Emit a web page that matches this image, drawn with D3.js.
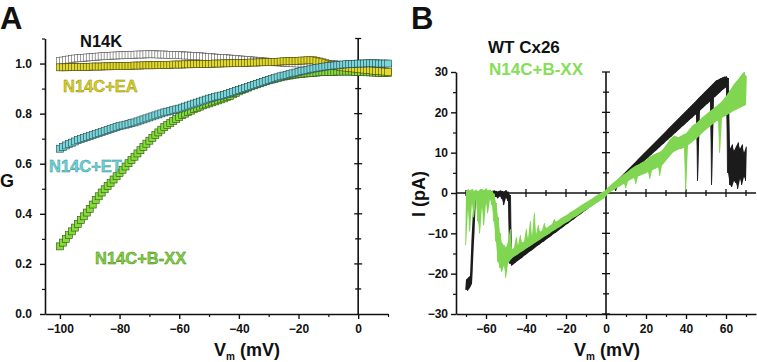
<!DOCTYPE html>
<html>
<head>
<meta charset="utf-8">
<script src="https://cdn.jsdelivr.net/npm/d3@7"></script>
<style>
body{margin:0;background:#fff;}
svg text{font-family:"Liberation Sans",Arial,sans-serif;font-weight:bold;}
</style>
</head>
<body>
<div id="chart"></div>
<script>
// ---- panel A : G-V curves, one marker per mV from -100 to +10
var vmA = d3.range(-100, 11, 1);

var gN14K = [
 1.010,1.012,1.014,1.016,1.018,1.020,1.021,1.022,1.023,1.024,
 1.025,1.026,1.027,1.028,1.029,1.030,1.030,1.031,1.032,1.032,
 1.033,1.033,1.034,1.034,1.035,1.035,1.036,1.036,1.036,1.037,
 1.037,1.037,1.037,1.036,1.036,1.036,1.035,1.035,1.034,1.034,
 1.034,1.033,1.032,1.032,1.031,1.030,1.029,1.029,1.028,1.027,
 1.026,1.025,1.024,1.023,1.022,1.022,1.021,1.020,1.019,1.018,
 1.017,1.016,1.015,1.014,1.013,1.012,1.011,1.010,1.009,1.008,
 1.007,1.006,1.005,1.005,1.004,1.003,1.002,1.002,1.001,1.001,
 1.000,1.000,1.000,1.001,1.002,1.003,1.004,1.003,1.002,1.000,
 0.999,0.998,0.997,0.996,0.995,0.995,0.994,0.993,0.992,0.991,
 0.990,0.989,0.988,0.987,0.986,0.985,0.984,0.983,0.982,0.981,0.980];

var gEA = [
 0.985,0.985,0.985,0.986,0.986,0.986,0.986,0.987,0.987,0.987,
 0.987,0.988,0.988,0.988,0.988,0.989,0.989,0.989,0.990,0.990,
 0.990,0.990,0.991,0.991,0.991,0.992,0.992,0.992,0.993,0.993,
 0.993,0.993,0.994,0.994,0.994,0.995,0.995,0.995,0.996,0.996,
 0.996,0.996,0.997,0.997,0.997,0.998,0.998,0.998,0.999,0.999,
 0.999,0.999,1.000,1.000,1.000,1.001,1.001,1.001,1.002,1.002,
 1.002,1.002,1.003,1.003,1.004,1.004,1.004,1.005,1.005,1.006,
 1.006,1.006,1.007,1.007,1.008,1.009,1.009,1.010,1.010,1.011,
 1.011,1.012,1.012,1.013,1.013,1.013,1.011,1.008,1.005,1.001,
 0.997,0.994,0.991,0.989,0.987,0.985,0.984,0.983,0.981,0.980,
 0.978,0.977,0.976,0.975,0.974,0.972,0.971,0.970,0.969,0.968,0.967];

var gET = [
 0.660,0.667,0.673,0.679,0.684,0.689,0.694,0.698,0.702,0.706,
 0.710,0.714,0.718,0.722,0.726,0.730,0.734,0.738,0.742,0.746,
 0.750,0.753,0.756,0.759,0.762,0.765,0.769,0.773,0.777,0.781,
 0.785,0.789,0.793,0.797,0.801,0.805,0.808,0.811,0.814,0.817,
 0.820,0.824,0.828,0.832,0.836,0.840,0.844,0.848,0.852,0.856,
 0.860,0.863,0.866,0.869,0.872,0.875,0.879,0.883,0.887,0.891,
 0.895,0.899,0.903,0.907,0.911,0.915,0.919,0.923,0.927,0.931,
 0.935,0.938,0.942,0.945,0.949,0.952,0.955,0.958,0.961,0.964,
 0.967,0.970,0.972,0.975,0.977,0.980,0.982,0.984,0.986,0.988,
 0.990,0.991,0.992,0.993,0.994,0.996,0.997,0.998,0.999,0.999,
 1.000,1.000,1.000,1.001,1.001,1.001,1.001,1.000,1.000,1.000,1.000];

var gBXX = [
 0.270,0.285,0.300,0.315,0.330,0.345,0.360,0.375,0.390,0.405,
 0.420,0.437,0.455,0.470,0.485,0.498,0.511,0.524,0.537,0.550,
 0.563,0.576,0.589,0.602,0.615,0.628,0.641,0.654,0.667,0.680,
 0.692,0.703,0.714,0.725,0.736,0.746,0.755,0.763,0.771,0.779,
 0.787,0.794,0.800,0.806,0.812,0.818,0.823,0.828,0.833,0.837,
 0.841,0.845,0.849,0.853,0.857,0.861,0.866,0.871,0.877,0.883,
 0.889,0.894,0.899,0.904,0.909,0.913,0.917,0.921,0.925,0.929,
 0.933,0.936,0.939,0.942,0.945,0.948,0.950,0.952,0.954,0.956,
 0.958,0.959,0.960,0.961,0.962,0.963,0.964,0.965,0.966,0.966,
 0.967,0.967,0.967,0.968,0.968,0.968,0.968,0.968,0.968,0.967,
 0.967,0.966,0.966,0.965,0.965,0.964,0.964,0.963,0.963,0.962,0.962];

var xTicksA = [-100,-80,-60,-40,-20,0];
var yTicksA = [0,0.2,0.4,0.6,0.8,1.0];

// ---- panel B : single channel I-V ramps, min/max per mV from -70 to +70
var vmB = d3.range(-70, 71, 1);

var wtLo = [
 -24.0,-24.2,-23.5,-22.5,-12.0,-1.0,-0.8,-1.2,-0.8,-1.0,
 -0.7,-0.9,-1.1,-0.8,-1.0,-0.9,-1.3,-0.8,-1.5,-3.0,
 -1.2,-2.0,-17.5,-18.0,-17.6,-17.2,-16.8,-16.4,-16.1,-15.6,
 -15.3,-14.9,-14.5,-14.2,-13.8,-13.4,-13.0,-12.7,-12.3,-12.0,
 -11.6,-11.2,-10.9,-10.5,-10.1,-9.8,-9.4,-9.0,-8.7,-8.3,
 -7.9,-7.6,-7.2,-6.8,-6.5,-6.1,-5.7,-5.4,-5.0,-4.6,
 -4.3,-3.9,-3.5,-3.2,-2.8,-2.4,-2.1,-1.7,-1.3,-0.9,
 -0.5,0.0,0.4,0.8,1.2,0.5,2.0,2.4,2.9,3.3,
 3.8,4.2,4.7,5.1,5.6,6.0,6.5,6.9,7.4,7.8,
 8.3,8.7,9.2,9.6,10.1,10.5,11.0,11.4,11.9,12.3,
 12.8,13.2,13.7,14.1,14.6,15.0,15.5,15.9,16.4,16.8,
 17.3,17.7,18.2,18.6,19.1,19.5,3.0,20.4,20.9,21.3,
 21.8,22.2,22.7,2.0,23.6,24.0,24.5,24.9,25.4,25.8,
 26.2,5.0,2.0,1.5,3.0,2.5,1.0,3.5,2.0,4.0,3.0];

var wtHi = [
 -21.5,-21.0,-20.5,-9.0,0.3,0.4,0.3,0.4,0.3,0.5,
 0.4,0.3,0.4,0.5,0.6,0.5,0.4,0.6,0.5,0.4,
 0.5,0.3,-0.5,-15.8,-15.5,-15.2,-14.8,-14.4,-14.0,-13.7,
 -13.3,-12.9,-12.6,-12.2,-11.9,-11.5,-11.2,-10.8,-10.5,-10.1,
 -9.8,-9.4,-9.1,-8.7,-8.4,-8.0,-7.7,-7.3,-7.0,-6.6,
 -6.3,-6.0,-5.6,-5.3,-4.9,-4.6,-4.2,-3.9,-3.5,-3.2,
 -2.8,-2.5,-2.1,-1.8,-1.4,-1.1,-0.7,-0.4,0.0,0.3,
 0.5,0.9,1.4,1.9,2.4,2.9,3.4,3.9,4.4,4.9,
 5.4,5.9,6.4,6.9,7.4,7.9,8.4,8.9,9.4,9.9,
 10.4,10.9,11.4,11.9,12.4,12.9,13.4,13.9,14.4,14.9,
 15.4,15.9,16.4,16.9,17.4,17.9,18.4,18.9,19.4,19.9,
 20.4,20.9,21.4,21.9,22.4,22.9,23.4,23.9,24.4,24.9,
 25.4,25.9,26.4,26.9,27.4,27.9,28.1,28.4,28.6,28.8,
 28.9,28.5,11.0,12.0,10.5,11.5,12.5,11.0,12.0,10.0,11.5];

var bxxLo = [
 -13.0,-4.0,-9.5,-2.5,-6.0,-1.5,-7.0,-10.0,-3.5,-8.0,
 -2.5,-5.0,-1.5,-3.0,-7.0,-12.0,-17.0,-18.5,-19.5,-18.0,
 -21.0,-17.5,-16.8,-16.2,-15.8,-15.5,-15.2,-14.8,-14.5,-14.2,
 -13.8,-13.5,-13.2,-12.9,-12.5,-12.2,-11.9,-11.6,-11.2,-10.9,
 -10.6,-10.3,-10.0,-9.6,-9.3,-9.0,-8.7,-8.4,-8.0,-7.7,
 -7.4,-7.1,-6.8,-6.4,-6.1,-5.8,-5.5,-5.2,-4.8,-4.5,
 -4.2,-3.9,-3.6,-3.2,-2.9,-2.6,-2.3,-2.0,-1.6,-1.3,
 -0.8,-0.2,0.2,0.5,0.8,1.1,1.4,1.7,2.0,2.3,
 1.2,2.9,3.2,3.5,3.7,2.2,4.1,4.3,4.5,4.7,
 4.9,5.2,3.5,5.6,5.9,6.1,6.4,4.3,6.9,7.4,
 8.0,8.6,9.2,9.8,10.2,10.5,10.7,10.9,11.0,11.3,
 0.7,11.8,12.2,12.6,13.0,13.4,13.8,14.3,14.8,15.3,
 15.7,16.1,16.5,16.9,17.3,17.7,18.0,10.0,18.6,18.9,
 19.2,19.5,19.8,20.1,20.4,20.6,20.9,21.1,21.4,21.6,21.8];

var bxxHi = [
 0.5,0.9,0.6,1.0,0.5,0.8,0.4,0.9,1.0,0.7,
 1.1,0.6,0.8,0.4,-0.2,-2.5,-6.0,-10.0,-12.5,-13.0,
 -13.5,-12.0,-9.0,-14.0,-13.5,-11.0,-13.0,-10.5,-12.3,-12.0,
 -9.0,-11.4,-7.0,-10.8,-5.0,-10.2,-8.0,-9.6,-9.3,-7.5,
 -8.7,-8.4,-8.0,-7.7,-6.5,-7.1,-6.8,-6.4,-6.1,-5.8,
 -5.5,-5.2,-4.8,-4.5,-4.2,-3.9,-3.6,-3.2,-2.9,-2.6,
 -2.3,-2.0,-1.7,-1.4,-1.0,-0.7,-0.4,-0.1,0.2,0.5,
 0.8,1.4,1.8,2.3,2.7,3.1,3.5,3.9,4.3,4.7,
 5.0,5.4,5.8,6.2,6.5,6.8,7.0,7.3,7.6,7.9,
 8.2,8.6,9.0,9.3,9.6,9.8,10.0,10.2,10.6,11.2,
 11.9,12.6,13.3,13.8,14.2,14.0,13.8,14.0,14.3,14.6,
 14.8,15.4,16.0,16.6,17.0,17.3,17.7,18.2,18.7,19.1,
 19.5,19.9,20.3,20.7,21.1,21.5,21.9,22.3,22.8,23.4,
 24.0,24.8,25.5,26.3,27.0,27.6,28.2,28.8,29.5,30.0,29.0];

var xTicksB = [-60,-40,-20,0,20,40,60];
var yTicksB = [-30,-20,-10,0,10,20,30];

var ink = "#111";

var svg = d3.select("#chart").append("svg")
    .attr("width", 757)
    .attr("height", 362);

function styleAxis(g, fs){
    g.select(".domain").attr("stroke", ink).attr("stroke-width", 1.6);
    g.selectAll(".tick line").attr("stroke", ink).attr("stroke-width", 1.4);
    g.selectAll(".tick text").attr("fill", ink).style("font-size", fs || "12px")
        .style("font-family", "'Liberation Sans',Arial,sans-serif").style("font-weight", "bold");
}

function minorAxis(g){
    g.select(".domain").remove();
    g.selectAll(".tick line").attr("stroke", ink).attr("stroke-width", 1.2);
}

// zero line with ticks crossing both sides
function crossLine(root, vertical, pos, scale, majors, minors){
    var r = scale.range();
    if(vertical){
        root.append("line").attr("x1", pos).attr("x2", pos).attr("y1", r[0]).attr("y2", r[1])
            .attr("stroke", ink).attr("stroke-width", 1.6);
    } else {
        root.append("line").attr("y1", pos).attr("y2", pos).attr("x1", r[0]).attr("x2", r[1])
            .attr("stroke", ink).attr("stroke-width", 1.6);
    }
    var all = majors.map(function(v){ return {v:v, h:4}; })
        .concat(minors.map(function(v){ return {v:v, h:3}; }));
    root.selectAll(null).data(all).enter().append("line")
        .attr("x1", function(d){ return vertical ? pos - d.h : scale(d.v); })
        .attr("x2", function(d){ return vertical ? pos + d.h : scale(d.v); })
        .attr("y1", function(d){ return vertical ? scale(d.v) : pos - d.h; })
        .attr("y2", function(d){ return vertical ? scale(d.v) : pos + d.h; })
        .attr("stroke", ink).attr("stroke-width", 1.3);
}

// ================= panel A
var xA = d3.scaleLinear().domain([-105, 10]).range([45, 388]);
var yA = d3.scaleLinear().domain([0, 1.1]).range([314, 38.5]);
var gA = svg.append("g").classed("panelA", true);

gA.append("g").attr("transform", "translate(0,314)")
    .call(d3.axisBottom(xA).tickValues([-90,-70,-50,-30,-10,10]).tickSize(3).tickFormat(""))
    .call(minorAxis);
gA.append("g").attr("transform", "translate(45,0)")
    .call(d3.axisLeft(yA).tickValues([0.1,0.3,0.5,0.7,0.9,1.1]).tickSize(3).tickFormat(""))
    .call(minorAxis);
gA.append("g").attr("transform", "translate(0,314)")
    .call(d3.axisBottom(xA).tickValues(xTicksA).tickSize(5).tickSizeOuter(0).tickPadding(5))
    .call(styleAxis);
gA.append("g").attr("transform", "translate(45,0)")
    .call(d3.axisLeft(yA).tickValues(yTicksA).tickSize(5).tickSizeOuter(0).tickPadding(8).tickFormat(d3.format(".1f")))
    .call(styleAxis);

crossLine(gA, true, xA(0), yA, [0.2,0.4,0.6,0.8,1.0], [0.1,0.3,0.5,0.7,0.9,1.1]);

var seriesA = [
    {name:"N14K", vals:gN14K, fill:"#ffffff", stroke:"#555"},
    {name:"N14C+B-XX", vals:gBXX, fill:"#84dc3c", stroke:"#2f4a12"},
    {name:"N14C+EA", vals:gEA, fill:"#e2da2c", stroke:"#4a4610"},
    {name:"N14C+ET", vals:gET, fill:"#7ad6da", stroke:"#1f4446"}
];
seriesA.forEach(function(s){
    gA.append("g").selectAll("rect").data(s.vals).enter().append("rect")
        .attr("x", function(d, i){ return xA(vmA[i]) - 3.5; })
        .attr("y", function(d){ return yA(d) - 3.5; })
        .attr("width", 7).attr("height", 7)
        .attr("fill", s.fill)
        .attr("stroke", s.stroke)
        .attr("stroke-width", 0.6);
});

gA.append("text").attr("x", 80).attr("y", 47).style("font-size", "16.5px").attr("fill", "#111").text("N14K");
gA.append("text").attr("x", 63).attr("y", 92).style("font-size", "16.5px").attr("fill", "#d8d022")
    .attr("stroke", "#8a8410").attr("stroke-width", 0.4).text("N14C+EA");
gA.append("text").attr("x", 49).attr("y", 172).style("font-size", "16.5px").attr("fill", "#6fd2d6")
    .attr("stroke", "#2f8a8e").attr("stroke-width", 0.4).text("N14C+ET");
gA.append("text").attr("x", 95).attr("y", 264).style("font-size", "16.5px").attr("fill", "#7ed23a")
    .attr("stroke", "#3f7a18").attr("stroke-width", 0.4).text("N14C+B-XX");

gA.append("text").attr("x", 0).attr("y", 187).style("font-size", "18px").attr("fill", ink).text("G");
var tA = gA.append("text").attr("x", 247).attr("y", 356).attr("text-anchor", "middle")
    .style("font-size", "18px").attr("fill", ink);
tA.append("tspan").text("V");
tA.append("tspan").attr("dy", 4).style("font-size", "10px").text("m");
tA.append("tspan").attr("dy", -4).text(" (mV)");

svg.append("text").attr("x", 0).attr("y", 28.5).style("font-size", "31px").attr("fill", ink).text("A");

// ================= panel B
var xB = d3.scaleLinear().domain([-75, 75]).range([456, 756]);
var yB = d3.scaleLinear().domain([-30, 30]).range([314, 72]);
var gB = svg.append("g").classed("panelB", true);

gB.append("g").attr("transform", "translate(0,314)")
    .call(d3.axisBottom(xB).tickValues([-70,-50,-30,-10,10,30,50,70]).tickSize(3).tickFormat(""))
    .call(minorAxis);
gB.append("g").attr("transform", "translate(456,0)")
    .call(d3.axisLeft(yB).tickValues([-25,-15,-5,5,15,25]).tickSize(3).tickFormat(""))
    .call(minorAxis);
gB.append("g").attr("transform", "translate(0,314)")
    .call(d3.axisBottom(xB).tickValues(xTicksB).tickSize(5).tickSizeOuter(0).tickPadding(5))
    .call(styleAxis);
gB.append("g").attr("transform", "translate(456,0)")
    .call(d3.axisLeft(yB).tickValues(yTicksB).tickSize(5).tickSizeOuter(0).tickPadding(3))
    .call(styleAxis);

crossLine(gB, false, yB(0), xB, [-60,-40,-20,20,40,60], [-70,-50,-30,-10,10,30,50,70]);
crossLine(gB, true, xB(0), yB, [-30,-20,-10,10,20,30], [-25,-15,-5,5,15,25]);

// each mV: filled min..max band, plus a min->max stroke like a decimated trace
function tracePoints(lo, hi){
    var pts = [];
    vmB.forEach(function(v, i){
        pts.push([v - 0.25, lo[i]]);
        pts.push([v + 0.25, hi[i]]);
    });
    return pts;
}
var traceLine = d3.line()
    .x(function(d){ return xB(d[0]); })
    .y(function(d){ return yB(d[1]); });
var traceBand = d3.area()
    .x(function(d){ return xB(d.v); })
    .y0(function(d){ return yB(d.lo); })
    .y1(function(d){ return yB(d.hi); });

function drawTrace(lo, hi, color){
    var rows = vmB.map(function(v, i){ return {v:v, lo:lo[i], hi:hi[i]}; });
    gB.append("path").attr("d", traceBand(rows)).attr("fill", color).attr("stroke", "none");
    gB.append("path").attr("d", traceLine(tracePoints(lo, hi)))
        .attr("fill", "none").attr("stroke", color).attr("stroke-width", 0.8).attr("stroke-linejoin", "round");
}
drawTrace(wtLo, wtHi, "#1c1c1c");
drawTrace(bxxLo, bxxHi, "#80d652");

gB.append("text").attr("x", 488).attr("y", 53).style("font-size", "17px").attr("fill", "#111").text("WT Cx26");
gB.append("text").attr("x", 489).attr("y", 75).style("font-size", "17px").attr("fill", "#86de58").text("N14C+B-XX");

gB.append("text").attr("transform", "translate(425,194) rotate(-90)").attr("text-anchor", "middle")
    .style("font-size", "18px").attr("fill", ink).text("I (pA)");
var tB = gB.append("text").attr("x", 607).attr("y", 356).attr("text-anchor", "middle")
    .style("font-size", "18px").attr("fill", ink);
tB.append("tspan").text("V");
tB.append("tspan").attr("dy", 4).style("font-size", "10px").text("m");
tB.append("tspan").attr("dy", -4).text(" (mV)");

svg.append("text").attr("x", 411).attr("y", 28.5).style("font-size", "31px").attr("fill", ink).text("B");
</script>
</body>
</html>
